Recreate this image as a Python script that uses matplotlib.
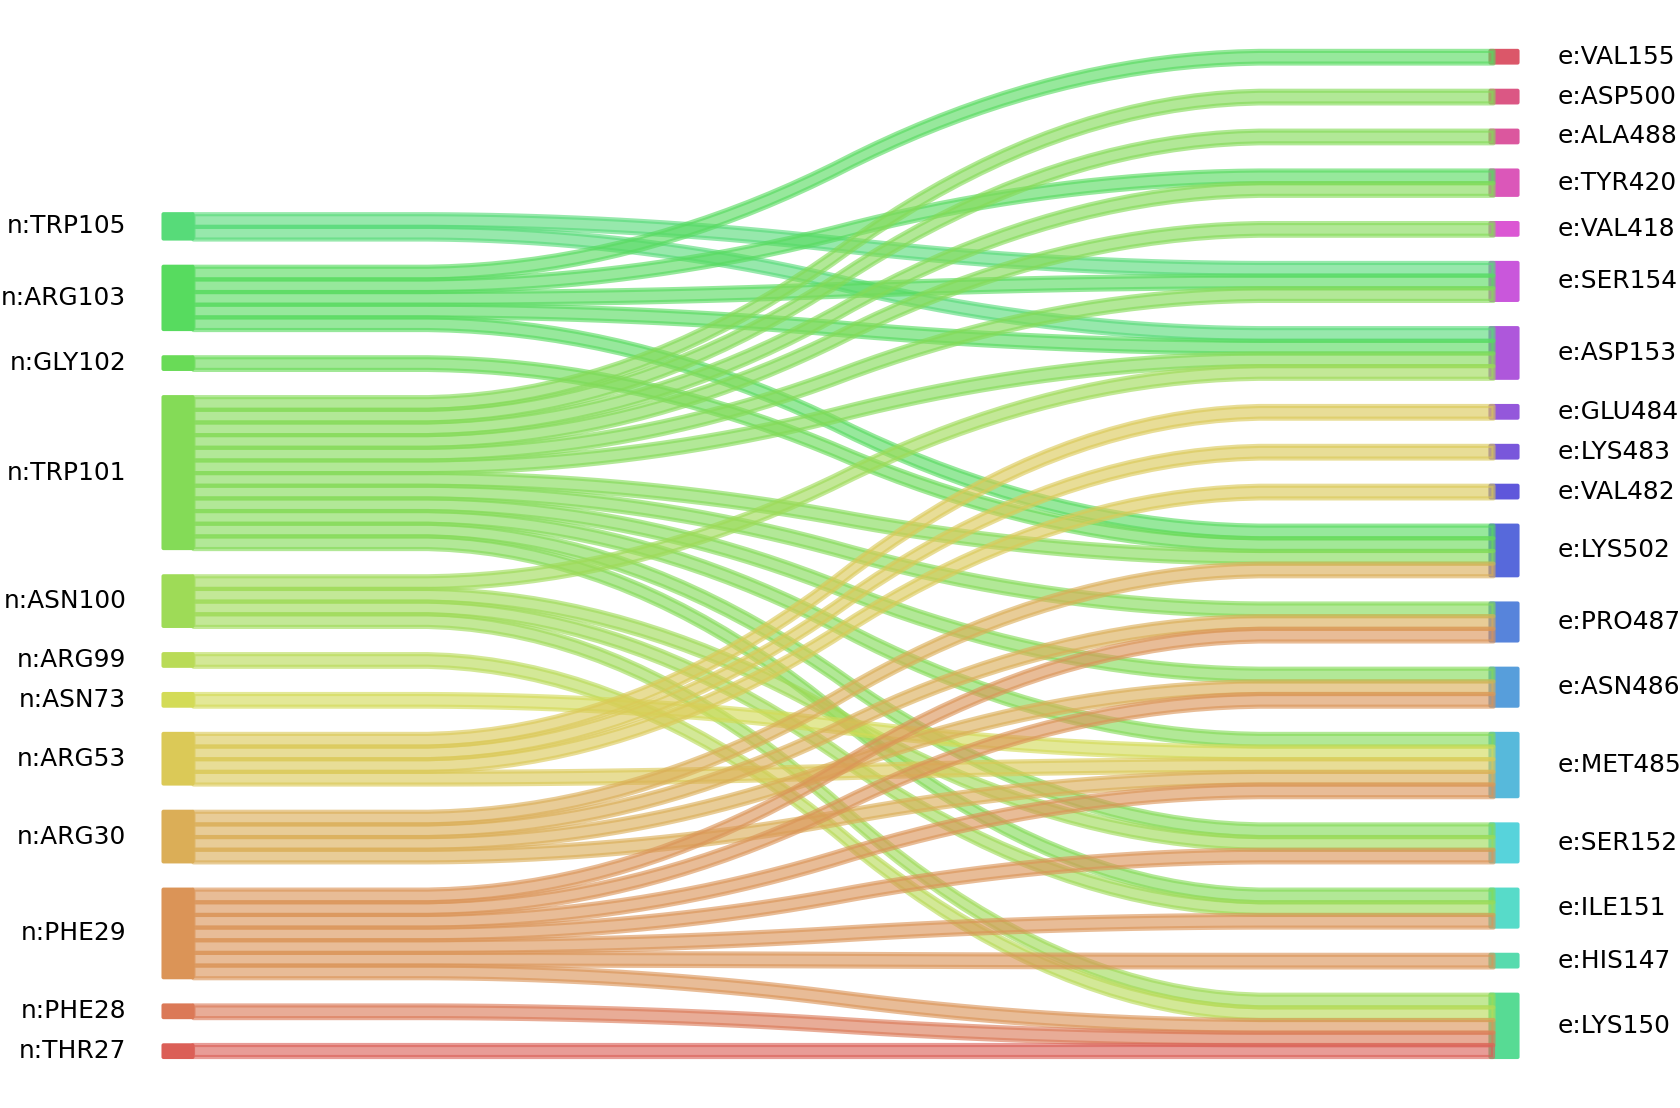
import numpy as np
import matplotlib
matplotlib.use("Agg")
import matplotlib.pyplot as plt
from matplotlib.patches import FancyBboxPatch
import seaborn as sns

# nodes, listed top to bottom as they appear
left_nodes = ["n:TRP105", "n:ARG103", "n:GLY102", "n:TRP101", "n:ASN100", "n:ARG99",
              "n:ASN73", "n:ARG53", "n:ARG30", "n:PHE29", "n:PHE28", "n:THR27"]
right_nodes = ["e:VAL155", "e:ASP500", "e:ALA488", "e:TYR420", "e:VAL418", "e:SER154",
               "e:ASP153", "e:GLU484", "e:LYS483", "e:VAL482", "e:LYS502", "e:PRO487",
               "e:ASN486", "e:MET485", "e:SER152", "e:ILE151", "e:HIS147", "e:LYS150"]

# links (left -> right), each of weight 1
links = {
    "n:TRP105": ["e:SER154", "e:ASP153"],
    "n:ARG103": ["e:VAL155", "e:TYR420", "e:SER154", "e:ASP153", "e:LYS502"],
    "n:GLY102": ["e:LYS502"],
    "n:TRP101": ["e:ASP500", "e:ALA488", "e:TYR420", "e:VAL418", "e:SER154", "e:ASP153",
                 "e:LYS502", "e:PRO487", "e:ASN486", "e:MET485", "e:SER152", "e:ILE151"],
    "n:ASN100": ["e:ASP153", "e:SER152", "e:ILE151", "e:LYS150"],
    "n:ARG99": ["e:LYS150"],
    "n:ASN73": ["e:MET485"],
    "n:ARG53": ["e:GLU484", "e:LYS483", "e:VAL482", "e:MET485"],
    "n:ARG30": ["e:LYS502", "e:PRO487", "e:ASN486", "e:MET485"],
    "n:PHE29": ["e:PRO487", "e:ASN486", "e:MET485", "e:SER152", "e:ILE151", "e:HIS147", "e:LYS150"],
    "n:PHE28": ["e:LYS150"],
    "n:THR27": ["e:LYS150"],
}
pairs = [(s, d) for s in left_nodes for d in links[s]]

gap = 0.05 * len(pairs)

# colours: left nodes bottom-up, then right nodes bottom-up
pal = sns.hls_palette(len(left_nodes) + len(right_nodes))
order = left_nodes[::-1] + right_nodes[::-1]
colors = {n: pal[i] for i, n in enumerate(order)}

# stack nodes from the bottom
def stack(nodes, side):
    pos = {}
    y = 0.0
    for n in nodes[::-1]:
        cnt = sum(1 for p in pairs if p[side] == n)
        pos[n] = [y, y + cnt]
        y += cnt + gap
    return pos

lpos = stack(left_nodes, 0)
rpos = stack(right_nodes, 1)
lrank = {n: i for i, n in enumerate(left_nodes[::-1])}
rrank = {n: i for i, n in enumerate(right_nodes[::-1])}

# slot of each link inside its left and right node
lslot, rslot = {}, {}
for n in left_nodes:
    mine = sorted([p for p in pairs if p[0] == n], key=lambda p: rrank[p[1]])
    for k, p in enumerate(mine):
        lslot[p] = lpos[n][0] + k
for n in right_nodes:
    mine = sorted([p for p in pairs if p[1] == n], key=lambda p: lrank[p[0]])
    for k, p in enumerate(mine):
        rslot[p] = rpos[n][0] + k

def smooth(a, b):
    ys = np.array(50 * [a] + 50 * [b], dtype=float)
    ys = np.convolve(ys, 0.05 * np.ones(20), mode="valid")
    ys = np.convolve(ys, 0.05 * np.ones(20), mode="valid")
    return ys

fig = plt.figure(figsize=(16.8, 11.08), dpi=100)
ax = fig.add_axes([0, 0, 1, 1])
ax.set_xlim(-0.1488, 1.1465)
ax.set_ylim(-3.99, 83.53)
ax.axis("off")

bw_l = 0.0231
bw_r = 0.0216
asp = 1297 / 12.66

def bar(x0, w, y0, y1, c):
    ax.add_patch(FancyBboxPatch((x0, y0), w, y1 - y0,
                                boxstyle="round,pad=0.0012,rounding_size=0.0016",
                                mutation_aspect=asp, fc=c, ec="none", zorder=1))

for n in left_nodes:
    y0, y1 = lpos[n]
    bar(-bw_l, bw_l, y0, y1, colors[n])
    ax.text(-0.0515, (y0 + y1) / 2, n, ha="right", va="center", fontsize=17.9,
            family="DejaVu Sans")
for n in right_nodes:
    y0, y1 = rpos[n]
    bar(1.0, bw_r, y0, y1, colors[n])
    ax.text(1.0524, (y0 + y1) / 2, n, ha="left", va="center", fontsize=17.9,
            family="DejaVu Sans")

for p in pairs:
    lo = smooth(lslot[p], rslot[p])
    hi = lo + 1
    xs = np.linspace(0, 1.0023, len(lo))
    ax.fill_between(xs, lo, hi, facecolor=colors[p[0]], edgecolor=colors[p[0]],
                    alpha=0.62, linewidth=3.0, zorder=2)

fig.savefig("out.png", dpi=100)
